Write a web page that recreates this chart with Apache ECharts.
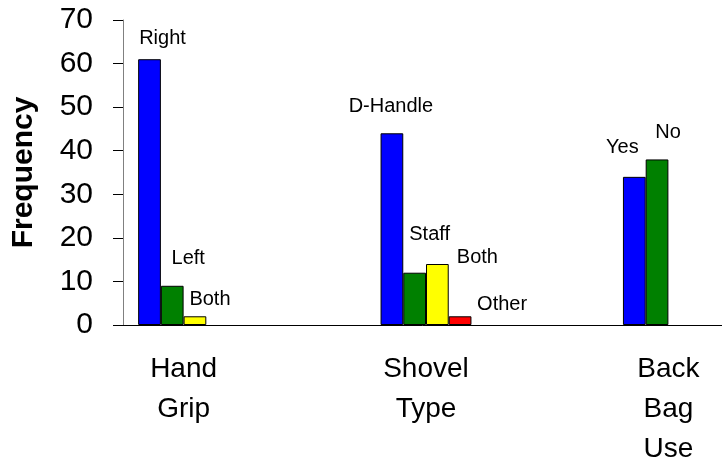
<!DOCTYPE html>
<html>
<head>
<meta charset="utf-8">
<script src="https://cdn.jsdelivr.net/npm/echarts@6/dist/echarts.min.js"></script>
<style>
  html, body { margin: 0; padding: 0; background: #fff; }
  #chart { width: 722px; height: 465px; }
</style>
</head>
<body>
<div id="chart"></div>
<script>
// categories (blank slots keep the spacing between groups)
const categories = ['Hand\nGrip', '', 'Shovel\nType', '', 'Back\nBag\nUse']

const blueValues = [61, null, 44, null, 34]
const greenValues = [9, null, 12, null, 38]
const yellowValues = [2, null, 14, null, null]
const redValues = [null, null, 2, null, null]

const blueNames = ['Right', '', 'D-Handle', '', 'Yes']
const greenNames = ['Left', '', 'Staff', '', 'No']
const yellowNames = ['Both', '', 'Both', '', '']
const redNames = ['', '', 'Other', '', '']

const yTicks = [0, 10, 20, 30, 40, 50, 60, 70]

const FONT = '"Liberation Sans", Arial, sans-serif'

// label offsets from the top of each bar (hand-placed in the original)
const labelOffsets = {
  blue: [[13, -21], null, [-1, -27], null, [-12, -29]],
  green: [[16, -27], null, [15, -38], null, [11, -27]],
  yellow: [[15, -17], null, [40, -7], null, null],
  red: [null, null, [42, -12], null, null]
}

function makeSeries(name, color, values, names, offsets) {
  return {
    name: name,
    type: 'bar',
    barGap: '0%',
    barCategoryGap: '25%',
    itemStyle: { color: color, borderColor: '#000', borderWidth: 1 },
    data: values.map((v, i) => ({
      value: v,
      label: {
        show: !!names[i],
        formatter: names[i],
        offset: offsets[i] || [0, 0]
      }
    })),
    label: {
      position: 'top',
      distance: 0,
      align: 'center',
      verticalAlign: 'middle',
      color: '#000',
      fontSize: 20,
      fontFamily: FONT
    },
    emphasis: { disabled: true }
  }
}

const chart = echarts.init(document.getElementById('chart'))

chart.setOption({
  animation: false,
  grid: { left: 123, top: 20, bottom: 140, width: 606, outerBoundsMode: 'none', containLabel: false },
  xAxis: {
    type: 'category',
    data: categories,
    axisLine: { lineStyle: { color: '#000', width: 1 } },
    axisTick: { length: 10, lineStyle: { color: '#808080' } },
    axisLabel: {
      interval: 0,
      margin: 24,
      color: '#000',
      fontSize: 28,
      lineHeight: 40,
      fontFamily: FONT
    }
  },
  yAxis: {
    type: 'value',
    min: 0,
    max: 70,
    interval: 10,
    name: 'Frequency',
    nameLocation: 'middle',
    nameGap: 84,
    nameTextStyle: { fontSize: 30, fontWeight: 'bold', color: '#000', fontFamily: FONT },
    axisLine: { show: true, lineStyle: { color: '#808080', width: 1 } },
    axisTick: { show: true, length: 10, lineStyle: { color: '#000' } },
    axisLabel: {
      margin: 30,
      color: '#000',
      fontSize: 30,
      fontFamily: FONT,
      formatter: v => (yTicks.includes(v) ? String(v) : '')
    },
    splitLine: { show: false }
  },
  series: [
    makeSeries('blue', '#0000ff', blueValues, blueNames, labelOffsets.blue),
    makeSeries('green', '#008000', greenValues, greenNames, labelOffsets.green),
    makeSeries('yellow', '#ffff00', yellowValues, yellowNames, labelOffsets.yellow),
    makeSeries('red', '#ff0000', redValues, redNames, labelOffsets.red)
  ]
})
</script>
</body>
</html>
